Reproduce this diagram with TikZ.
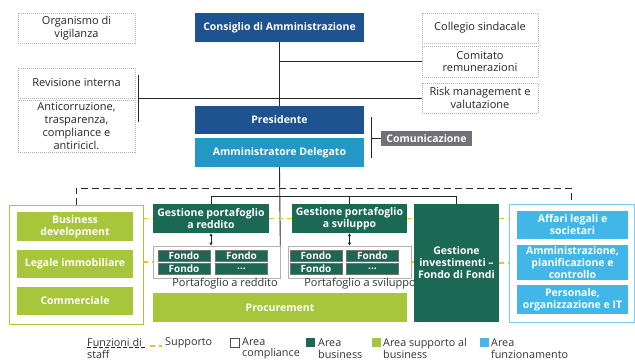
\documentclass[tikz,border=0pt]{standalone}
\usepackage{fontspec}
\setmainfont{Open Sans}
\usepackage{tikz}
\usetikzlibrary{arrows.meta}
\definecolor{cdablue}{RGB}{30,82,145}
\definecolor{adblue}{RGB}{34,152,198}
\definecolor{bizgreen}{RGB}{27,104,84}
\definecolor{suplime}{RGB}{168,198,60}
\definecolor{funblue}{RGB}{64,183,232}
\definecolor{comgray}{RGB}{112,112,118}
\definecolor{suppyellow}{RGB}{238,190,40}

\begin{document}
\begin{tikzpicture}[x=1pt,y=-1pt,
  wh/.style 2 args={minimum width=#1pt, minimum height=#2pt},
  wbox/.style={draw=gray!60, line width=0.5pt, dash pattern=on 1pt off 1pt, fill=white, align=center, inner sep=0pt, text=black!85, font=\fontsize{11}{12.7}\selectfont},
  cbox/.style={fill=#1, text=white, align=center, inner sep=0pt, font=\bfseries\fontsize{10.5}{12}\selectfont},
  frame/.style={draw=#1, line width=0.8pt, fill=white, inner sep=0pt},
  grp/.style={draw=gray!60, line width=0.6pt, inner sep=0pt},
  fondo/.style={fill=bizgreen, draw=black!55, line width=0.4pt, text=white, inner sep=0pt, minimum width=52pt, minimum height=11pt, font=\bfseries\fontsize{10}{10}\selectfont},
  conn/.style={draw=black!85, line width=0.9pt},
  staff/.style={draw=black!85, line width=0.9pt, dash pattern=on 7pt off 4pt},
  supp/.style={draw=suppyellow, line width=1.3pt, dash pattern=on 5pt off 4pt},
  twoway/.style={{Latex[length=3pt,width=3.5pt]}-{Latex[length=3pt,width=3.5pt]}, line width=1pt, black!85},
  legtext/.style={align=left, anchor=west, inner sep=0pt, text=black!80, font=\fontsize{10.8}{11.5}\selectfont},
  legsq/.style={minimum size=9pt, inner sep=0pt, fill=#1}
]
\useasboundingbox (0,0) rectangle (635,362);

% vertice
\node[cbox=cdablue, wh={169}{29}] (cda) at (279.5,27.5) {Consiglio di Amministrazione};
\node[cbox=cdablue, wh={169}{28}] (pres) at (279.5,120) {Presidente};
\node[cbox=adblue, wh={169}{29}] (ad) at (279.5,152.5) {Amministratore Delegato};
\node[cbox=comgray, wh={91}{15}] (com) at (426.5,138.5) {Comunicazione};

% organi di controllo
\node[wbox, wh={117}{30}] (odv) at (76.5,28) {Organismo di\\vigilanza};
\node[wbox, wh={117}{30}] (rev) at (76.5,83) {Revisione interna};
\node[wbox, wh={117}{52}] (anti) at (76.5,126) {Anticorruzione,\\trasparenza,\\compliance e\\antiricicl.};
\node[wbox, wh={116}{30}] (cs) at (480,28) {Collegio sindacale};
\node[wbox, wh={116}{31}] (crem) at (480,61.5) {Comitato\\remunerazioni};
\node[wbox, wh={116}{30}] (risk) at (480,98) {Risk management e\\valutazione};

\coordinate (rbtop) at (138,75);
\coordinate (rbbot) at (138,122);
\coordinate (cbtop) at (371,117);
\coordinate (cbbot) at (371,158);
\draw[conn] (cda.south) -- (pres.north);
\draw[conn] (crem.west) -- (crem.west -| cda.south);
\draw[conn] (rbtop) -- (rbbot);
\draw[conn] (risk.west) -- (risk.west -| rbtop);
\draw[conn] (cbtop) -- (cbbot);
\draw[conn] (com.west) -- (com.west -| cbtop);

% supporto al business
\node[frame=suplime, wh={134}{119}] (lframe) at (76,264.5) {};
\node[cbox=suplime, wh={116}{29}] (bd) at (75,226.5) {Business\\development};
\node[cbox=suplime, wh={116}{28}] (li) at (75,264) {Legale immobiliare};
\node[cbox=suplime, wh={116}{28}] (comm) at (75,301) {Commerciale};

% area business
\node[cbox=bizgreen, wh={116}{29}] (gpr) at (211,218.5) {Gestione portafoglio\\a reddito};
\node[cbox=bizgreen, wh={115}{29}] (gps) at (349.5,218.5) {Gestione portafoglio\\a sviluppo};
\node[grp, wh={127}{32}] (grpR) at (216.5,262) {};
\node[grp, wh={123}{32}] (grpS) at (349.5,262) {};
\node[fondo] (fr1) at (184,255.5) {Fondo};
\node[fondo] (fr2) at (241.5,255.5) {Fondo};
\node[fondo] (fr3) at (184,269) {Fondo};
\node[fondo] (fr4) at (241.5,269) {...};
\node[fondo] (fs1) at (316,255.5) {Fondo};
\node[fondo] (fs2) at (372.5,255.5) {Fondo};
\node[fondo] (fs3) at (316,269) {Fondo};
\node[fondo] (fs4) at (372.5,269) {...};
\node[inner sep=0pt, text=black!80, font=\fontsize{11}{12}\selectfont] (lblR) at (225,284) {Portafoglio a reddito};
\node[inner sep=0pt, text=black!80, font=\fontsize{11}{12}\selectfont] (lblS) at (360,284) {Portafoglio a sviluppo};
\node[cbox=suplime, wh={254}{29}] (proc) at (280,307.5) {Procurement};
\node[cbox=bizgreen, wh={85}{118}] (gi) at (456.5,263) {Gestione\\investimenti --\\Fondo di Fondi};

% area funzionamento
\node[frame=funblue!70, wh={125}{118}] (rframe) at (571.5,263) {};
\node[cbox=funblue, wh={111}{28}] (alg) at (572.5,225) {Affari legali e\\societari};
\node[cbox=funblue, wh={111}{35}] (apc) at (572.5,262.5) {Amministrazione,\\pianificazione e\\controllo};
\node[cbox=funblue, wh={111}{29}] (poi) at (572.5,299.5) {Personale,\\organizzazione e IT};

% collegamenti
\coordinate (staffy) at (0,188);
\coordinate (bus) at (0,196);
\draw[staff] (lframe.north) -- (lframe.north |- staffy) -| (rframe.north);
\draw[conn] (ad.south) -- (grpR.north east);
\draw[conn] (gpr.north) |- (bus -| gi.north) -- (gi.north);
\draw[conn] (gps.north) -- (gps.north |- bus);
\draw[twoway] (gpr.south) -- (gpr.south |- grpR.north);
\draw[twoway] (gps.south) -- (gps.south |- grpS.north);
\draw[supp] (lframe.east |- gpr.west) -- (gpr.west);
\draw[supp] (gpr.east) -- (gps.west);
\draw[supp] (gps.east) -- (gi.west |- gps.east);
\draw[supp] (gi.east |- gps.east) -- (rframe.west |- gps.east);
\draw[supp] (lframe.east |- grpR.west) -- (grpR.west);
\draw[supp] (grpS.east) -- (gi.west |- grpS.east);
\draw[supp] (gi.east) -- (rframe.west);

% legenda
\node[legtext] (lstaff) at (87,348.5) {Funzioni di\\staff};
\draw[staff, line width=0.7pt, dash pattern=on 4pt off 2pt] (87,347) -- (145,347);
\draw[supp] (150,346) -- (162,346);
\node[legtext] (lsupp) at (165,343) {Supporto};
\node[legsq=white, draw=black!70, line width=0.5pt] (sqc) at (234.5,342.5) {};
\node[legtext] (lcomp) at (242,348.5) {Area\\compliance};
\node[legsq=bizgreen] (sqb) at (310.5,342.5) {};
\node[legtext] (lbiz) at (318,348.5) {Area\\business};
\node[legsq=suplime] (sqs) at (376,342.5) {};
\node[legtext] (lsup) at (383,348.5) {Area supporto al\\business};
\node[legsq=funblue] (sqf) at (484.5,342.5) {};
\node[legtext] (lfun) at (491,348.5) {Area\\funzionamento};
\end{tikzpicture}
\end{document}
